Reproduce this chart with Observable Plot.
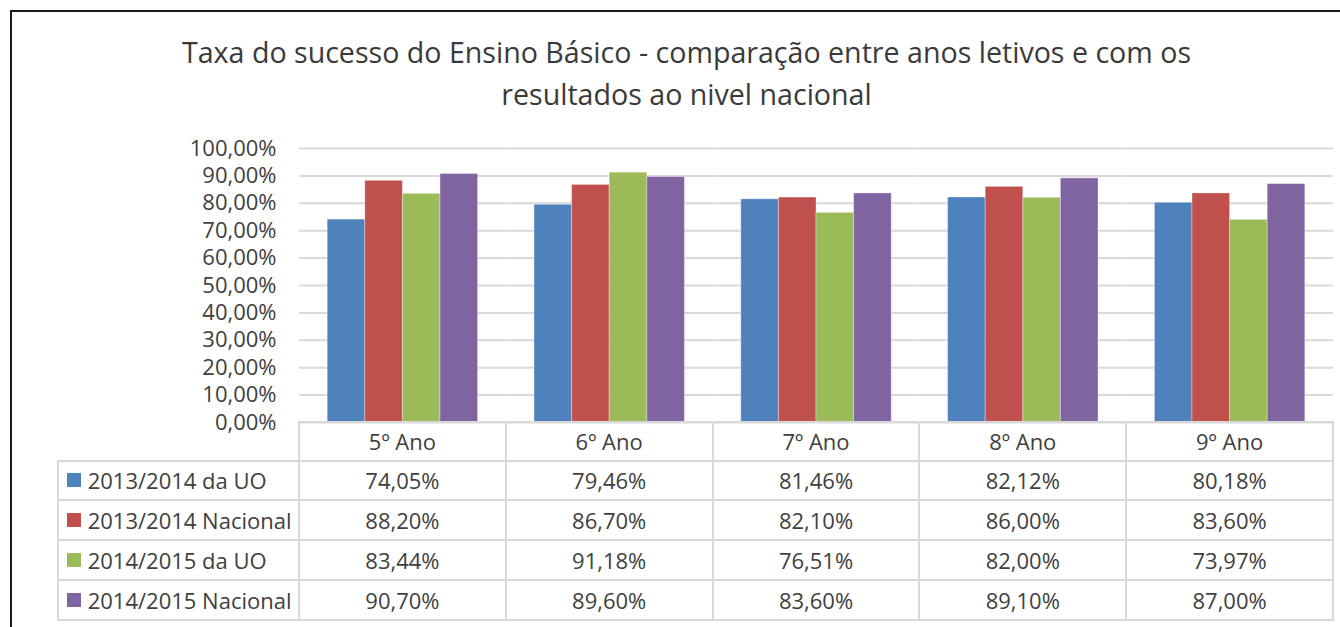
<!DOCTYPE html>
<html><head><meta charset="utf-8">
<script src="https://cdn.jsdelivr.net/npm/d3@7"></script>
<script src="https://cdn.jsdelivr.net/npm/@observablehq/plot@0.6"></script>
<style>
body{margin:0;background:#fff;}
#wrap{position:relative;width:1340px;height:627px;overflow:hidden;font-family:"Open Sans",sans-serif;color:#404040;background:#fff}
#border{position:absolute;left:10px;top:10px;width:1400px;height:700px;border-top:2px solid #1a1a1a;border-left:2px solid #1a1a1a}
#title{position:absolute;left:33px;width:1307px;top:31px;text-align:center;font-size:28.6px;line-height:42px;color:#3a3a3a}
#chart{position:absolute;left:0;top:0}
.cell{position:absolute;box-sizing:border-box;border:2px solid #d9d9d9;font-size:22px;color:#404040;display:flex;align-items:center;white-space:nowrap}
.c{justify-content:center}
.sw{display:inline-block;width:14px;height:14px;margin:0 7px 0 8px}
</style></head>
<body><div id="wrap"><div id="border"></div><div id="title"></div><div id="chart"></div></div>
<script>
const titleLines = ["Taxa do sucesso do Ensino Básico - comparação entre anos letivos e com os", "resultados ao nivel nacional"];
const categories = ["5º Ano","6º Ano","7º Ano","8º Ano","9º Ano"];
const seriesNames = ["2013/2014 da UO","2013/2014 Nacional","2014/2015 da UO","2014/2015 Nacional"];
const seriesColors = ["#4f81bd","#c0504d","#9bbb59","#8064a2"];
const uo1314 = [74.05,79.46,81.46,82.12,80.18];
const nac1314 = [88.20,86.70,82.10,86.00,83.60];
const uo1415 = [83.44,91.18,76.51,82.00,73.97];
const nac1415 = [90.70,89.60,83.60,89.10,87.00];
const yTicks = [0,10,20,30,40,50,60,70,80,90,100];

const seriesValues = [uo1314, nac1314, uo1415, nac1415];
const fmt = v => v.toFixed(2).replace(".", ",") + "%";

document.getElementById("title").innerHTML = titleLines.join("<br>");

const data = [];
seriesValues.forEach((vals, si) => vals.forEach((v, ci) => data.push({cat: categories[ci], series: seriesNames[si], value: v})));

const chart = Plot.plot({
  width: 1340, height: 430,
  marginLeft: 299, marginRight: 7, marginTop: 148, marginBottom: 8,
  style: {fontFamily: "Open Sans", fontSize: "22px", color: "#404040", background: "transparent", overflow: "visible"},
  fx: {domain: categories, padding: 0, round: false, axis: null, label: null},
  x: {domain: seriesNames, paddingInner: 0, paddingOuter: 0.75, round: false, axis: null},
  y: {domain: [0, 100], axis: null},
  color: {domain: seriesNames, range: seriesColors},
  marks: [
    Plot.gridY(yTicks, {stroke: "#d9d9d9", strokeOpacity: 1, strokeWidth: 2}),
    Plot.axisY(yTicks, {tickSize: 0, tickPadding: 23, tickFormat: fmt, label: null, fontSize: 22, fill: "#404040"}),
    Plot.barY(data, {fx: "cat", x: "series", y: "value", fill: "series", insetLeft: 0, insetRight: 0, stroke: "#ffffff", strokeOpacity: 0.35, strokeWidth: 1})
  ]
});
const holder = document.getElementById("chart");
holder.appendChild(chart);

// Data table positioned with the fx scale
const wrap = document.getElementById("wrap");
const fxs = chart.scale("fx");
const yScale = chart.scale("y");
const y0 = yScale.apply(0);
const bw = fxs.bandwidth;
const fxPos = c => fxs.apply(c);
const headerH = 38.5, rowH = 39.75, legendLeft = 57.7;
const plotLeft = fxPos(categories[0]);

function cell(left, top, w, h, html, cls) {
  const d = document.createElement("div");
  d.className = "cell " + (cls || "");
  d.style.left = (left - 1) + "px";
  d.style.top = (top - 1) + "px";
  d.style.width = (w + 2) + "px";
  d.style.height = (h + 2) + "px";
  d.innerHTML = html;
  wrap.appendChild(d);
}
categories.forEach(c => cell(fxPos(c), y0, bw, headerH, c, "c"));
seriesNames.forEach((s, si) => {
  const top = y0 + headerH + si * rowH;
  cell(legendLeft, top, plotLeft - legendLeft, rowH, `<span class="sw" style="background:${seriesColors[si]}"></span>${s}`);
  categories.forEach((c, ci) => cell(fxPos(c), top, bw, rowH, fmt(seriesValues[si][ci]), "c"));
});
</script></body></html>
